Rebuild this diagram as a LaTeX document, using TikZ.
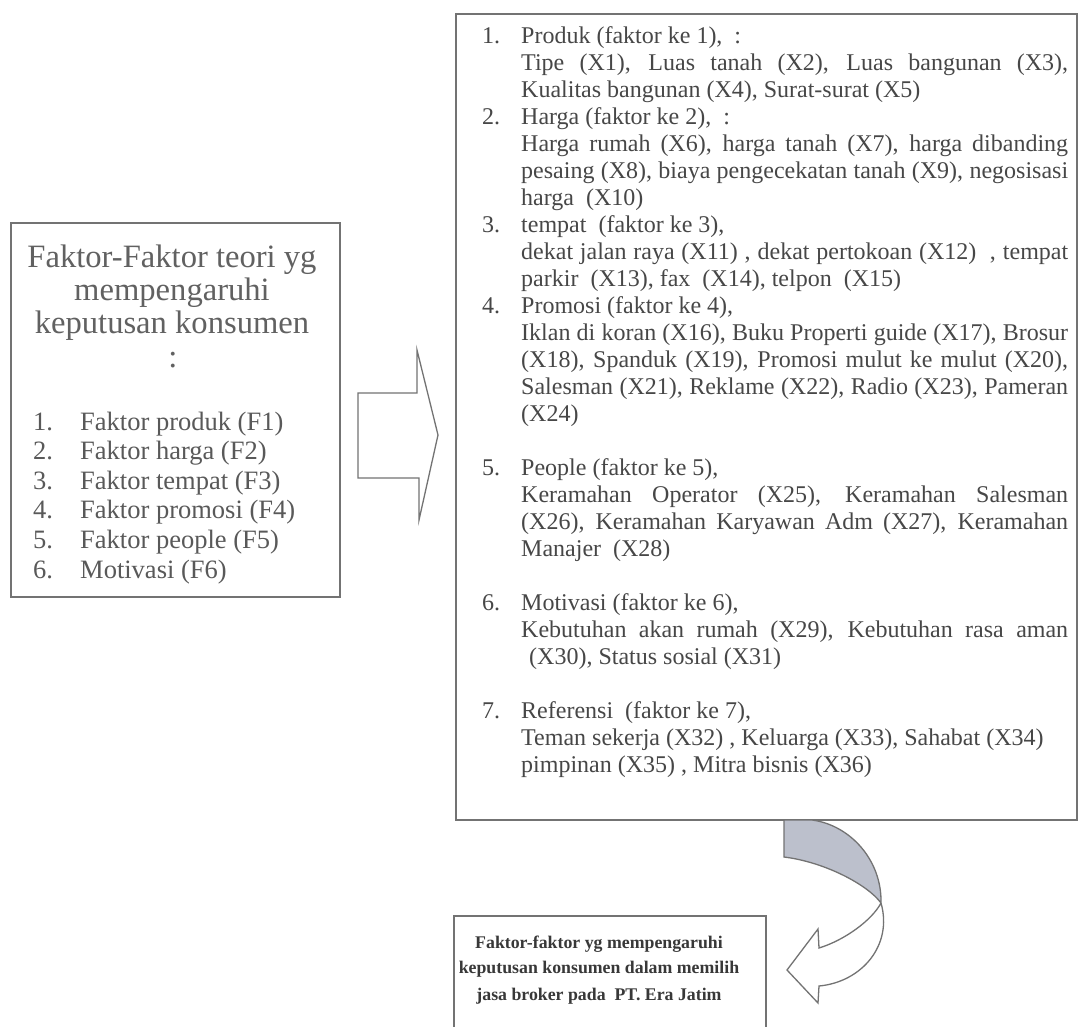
\documentclass[tikz,border=0pt]{standalone}
\usepackage{fontspec}
\setmainfont{Liberation Serif}
\newcommand\jl[1]{\makebox[547pt][s]{#1}}
\definecolor{bandfill}{RGB}{188,192,204}
\begin{document}
\begin{tikzpicture}[x=1pt,y=-1pt,
  frame/.style={draw=black!55,line width=1.4pt},
  rt/.style={inner sep=0pt,anchor=base west,text=black!72,font=\fontsize{24}{27}\selectfont},
  lt/.style={inner sep=0pt,anchor=base west,text=black!65,font=\fontsize{26.5}{29.6}\selectfont},
  tt/.style={inner sep=0pt,anchor=base,text=black!62,font=\fontsize{32.6}{33}\selectfont},
  bt/.style={inner sep=0pt,anchor=base,text=black!78,font=\fontsize{17.8}{26}\selectfont\bfseries},
  arrowline/.style={draw=black!55,line width=1.3pt,line join=miter},
  band/.style={fill=bandfill,draw=black!55,line width=1.3pt}]
\useasboundingbox (0,0) rectangle (1079,1026);
\fill[white] (0,0) rectangle (1079,1026);
\clip (0,0) rectangle (1079,1026);

% ---------- left box ----------
\draw[frame] (11,223) rectangle (340,597);
\node[tt] (t1) at (172,267) {Faktor-Faktor teori yg};
\node[tt] (t2) at (172,300) {mempengaruhi};
\node[tt] (t3) at (172,333) {keputusan konsumen};
\node[tt] (t4) at (173,367) {:};
\node[lt] (ln1) at (33,430) {1.};   \node[lt] (lx1) at (80,430) {Faktor produk (F1)};
\node[lt] (ln2) at (33,459.6) {2.}; \node[lt] (lx2) at (80,459.6) {Faktor harga (F2)};
\node[lt] (ln3) at (33,489.2) {3.}; \node[lt] (lx3) at (80,489.2) {Faktor tempat (F3)};
\node[lt] (ln4) at (33,518.8) {4.}; \node[lt] (lx4) at (80,518.8) {Faktor promosi (F4)};
\node[lt] (ln5) at (33,548.4) {5.}; \node[lt] (lx5) at (80,548.4) {Faktor people (F5)};
\node[lt] (ln6) at (33,578) {6.};   \node[lt] (lx6) at (80,578) {Motivasi (F6)};

% ---------- block arrow ----------
\draw[arrowline,fill=white] (358,393) -- (417,393) -- (417,350) -- (438,435)
  -- (419,520) -- (419,478) -- (358,478) -- cycle;

% ---------- right box ----------
\draw[frame] (456,14) rectangle (1077,820);
\node[rt] (n1) at (482,43) {1.};
\node[rt] (a1) at (521,43) {Produk (faktor ke 1),\ \ :};
\node[rt] (a2) at (521,70) {\jl{Tipe (X1), Luas tanah (X2), Luas bangunan (X3),}};
\node[rt] (a3) at (521,97) {Kualitas bangunan (X4), Surat-surat (X5)};
\node[rt] (n2) at (482,124) {2.};
\node[rt] (b1) at (521,124) {Harga (faktor ke 2),\ \ :};
\node[rt] (b2) at (521,151) {\jl{Harga rumah (X6), harga tanah (X7), harga dibanding}};
\node[rt] (b3) at (521,178) {\jl{pesaing (X8), biaya pengecekatan tanah (X9), negosisasi}};
\node[rt] (b4) at (521,205) {harga\ \ (X10)};
\node[rt] (n3) at (482,232) {3.};
\node[rt] (c1) at (521,232) {tempat\ \ (faktor ke 3),};
\node[rt] (c2) at (521,259) {\jl{dekat jalan raya (X11) , dekat pertokoan (X12)\ \ , tempat}};
\node[rt] (c3) at (521,286) {parkir\ \ (X13), fax\ \ (X14), telpon\ \ (X15)};
\node[rt] (n4) at (482,313) {4.};
\node[rt] (d1) at (521,313) {Promosi (faktor ke 4),};
\node[rt] (d2) at (521,340) {\jl{Iklan di koran (X16), Buku Properti guide (X17), Brosur}};
\node[rt] (d3) at (521,367) {\jl{(X18), Spanduk (X19), Promosi mulut ke mulut (X20),}};
\node[rt] (d4) at (521,394) {\jl{Salesman (X21), Reklame (X22), Radio (X23), Pameran}};
\node[rt] (d5) at (521,421) {(X24)};
\node[rt] (n5) at (482,475) {5.};
\node[rt] (e1) at (521,475) {People (faktor ke 5),};
\node[rt] (e2) at (521,502) {\jl{Keramahan Operator (X25), Keramahan Salesman}};
\node[rt] (e3) at (521,529) {\jl{(X26), Keramahan Karyawan Adm (X27), Keramahan}};
\node[rt] (e4) at (521,556) {Manajer\ \ (X28)};
\node[rt] (n6) at (482,610) {6.};
\node[rt] (f1) at (521,610) {Motivasi (faktor ke 6),};
\node[rt] (f2) at (521,637) {\jl{Kebutuhan akan rumah (X29), Kebutuhan rasa aman}};
\node[rt] (f3) at (529,664) {(X30), Status sosial (X31)};
\node[rt] (n7) at (482,718) {7.};
\node[rt] (g1) at (521,718) {Referensi\ \ (faktor ke 7),};
\node[rt] (g2) at (521,745) {Teman sekerja (X32) , Keluarga (X33), Sahabat (X34)};
\node[rt] (g3) at (521,772) {pimpinan (X35) , Mitra bisnis (X36)};

% ---------- curved arrow ----------
\coordinate (tw) at (881,903);
\path[band] (784,820) -- (812,820) .. controls (850,825) and (882,860) .. (tw)
  .. controls (868,885) and (825,862) .. (784,857) -- cycle;
\draw[arrowline,fill=white] (tw) .. controls (872,920) and (845,940) .. (819,948)
  -- (818,929) -- (787,970) -- (818,1003) -- (819,986)
  .. controls (862,982) and (893,945) .. (tw);

% ---------- bottom box ----------
\draw[frame] (454,916) rectangle (766,1060);
\node[bt] (r1) at (599,948) {Faktor-faktor yg mempengaruhi};
\node[bt] (r2) at (599,973) {keputusan konsumen dalam memilih};
\node[bt] (r3) at (599,1000) {jasa broker pada\ \ PT. Era Jatim};
\end{tikzpicture}
\end{document}
